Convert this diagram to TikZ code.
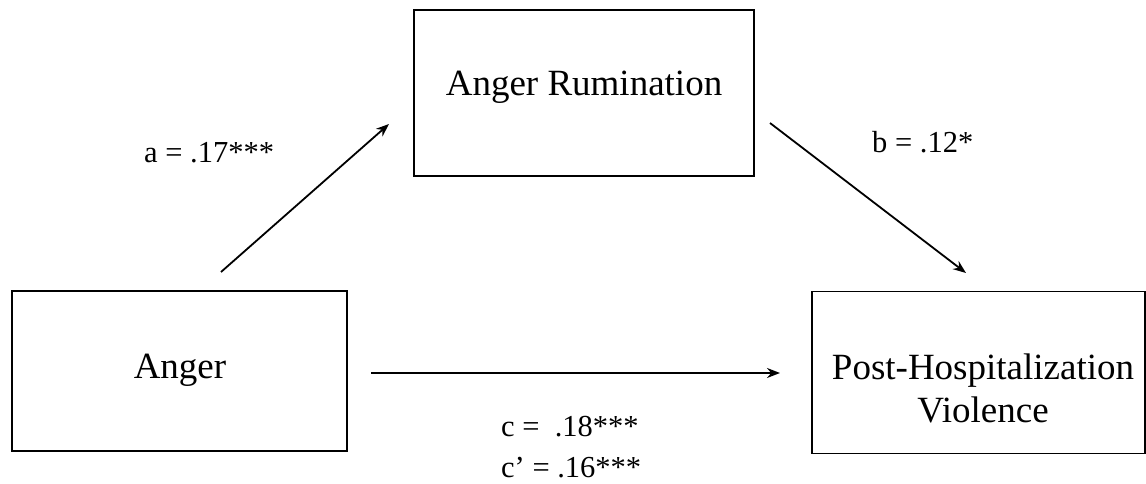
\documentclass[tikz,border=0pt]{standalone}
\usepackage{fontspec}
\setmainfont{Liberation Serif}
\usetikzlibrary{arrows.meta}
\begin{document}
\begin{tikzpicture}[x=1pt,y=-1pt,
  box/.style={draw=black,line width=1.6pt,inner sep=0pt},
  boxtext/.style={font=\fontsize{37}{43}\selectfont,align=center,inner sep=0pt},
  coef/.style={font=\fontsize{30.5}{36}\selectfont,inner sep=0pt,anchor=base west},
  path/.style={line width=1.8pt,-{Stealth[length=13pt,width=10pt]}}]
\useasboundingbox (0,0) rectangle (1146,484);
\fill[white] (0,0) rectangle (1146,484);
% boxes
\node[box,minimum width=340pt,minimum height=166pt] (rum) at (584,93) {};
\node[box,minimum width=335pt,minimum height=160pt] (anger) at (179.5,371) {};
\node[box,minimum width=333pt,minimum height=162pt] (post) at (978.5,372.5) {};
% texts
\node[boxtext] (rumtxt) at (584,87) {Anger Rumination};
\node[boxtext] (angertxt) at (180,370) {Anger};
\node[boxtext] (posttxt) at (983,388) {Post-Hospitalization\\Violence};
% connector endpoints
\coordinate (a1) at (221,272);
\coordinate (a2) at (389,124);
\coordinate (b1) at (770,123);
\coordinate (b2) at (966,273);
\coordinate (c1) at (371,373);
\coordinate (c2) at (780,373);
\draw[path] (a1) -- (a2);
\draw[path] (b1) -- (b2);
\draw[path] (c1) -- (c2);
% coefficients
\node[coef] (la) at (144,162) {a = .17***};
\node[coef] (lb) at (872,153) {b = .12*};
\node[coef] (lc) at (501,436) {c =\ \ .18***};
\node[coef] (lcp) at (501,477) {c’ = .16***};
\end{tikzpicture}
\end{document}
